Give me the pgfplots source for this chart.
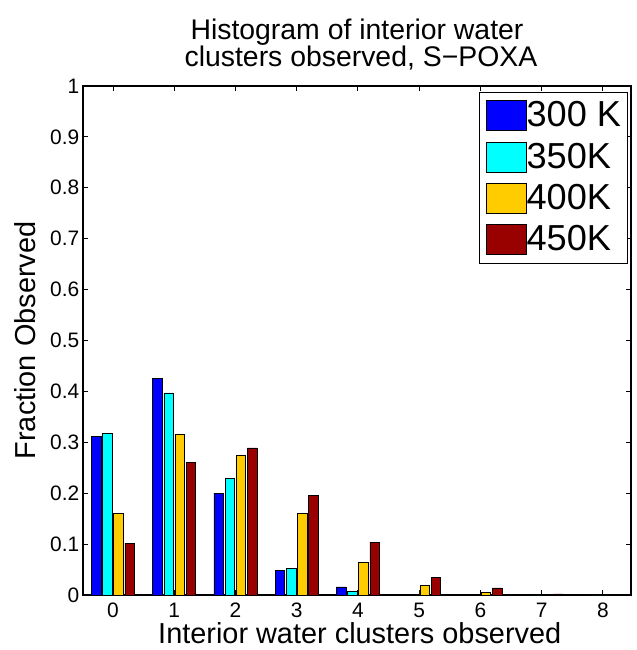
\documentclass[border=0pt]{standalone}
\usepackage{fontspec}
\setmainfont{Liberation Sans}
\usepackage{pgfplots}
\pgfplotsset{compat=1.18}

\definecolor{c300}{RGB}{0,0,255}
\definecolor{c350}{RGB}{0,255,255}
\definecolor{c400}{RGB}{255,204,0}
\definecolor{c450}{RGB}{153,0,0}

\begin{document}
\begin{tikzpicture}
\begin{axis}[
  at={(0,0)}, anchor=south west,
  scale only axis,
  width=548bp, height=509bp,
  xmin=-0.49, xmax=8.46,
  ymin=0, ymax=1,
  xtick={0,1,2,3,4,5,6,7,8},
  ytick={0,0.1,0.2,0.3,0.4,0.5,0.6,0.7,0.8,0.9,1},
  yticklabels={0,0.1,0.2,0.3,0.4,0.5,0.6,0.7,0.8,0.9,1},
  tick align=inside,
  major tick length=5bp,
  axis line style={line width=1.1bp},
  every tick/.style={black, line width=0.9bp},
  /pgf/number format/assume math mode=true,
  tick label style={font=\fontsize{21}{21}\selectfont},
  yticklabel style={inner sep=0bp, xshift=-3.5bp},
  xticklabel style={inner sep=0bp, yshift=-8bp},
  xlabel={Interior water clusters observed},
  ylabel={Fraction Observed},
  label style={font=\fontsize{29}{29}\selectfont, inner sep=0bp},
  xlabel style={at={(axis description cs:0.505,-0.0955)}, anchor=base},
  ylabel style={at={(axis description cs:-0.0858,0.5)}, anchor=base},
  title={Histogram of interior water\\ \ clusters observed, S−POXA},
  title style={font=\fontsize{28.5}{27}\selectfont, align=center, inner sep=0bp,
               at={(axis description cs:0.5,1.0187)}, anchor=south},
  legend image code/.code={
    \draw[#1,/tikz/.cd,draw=black,line width=0.8bp] (0bp,-4bp) rectangle (40bp,26bp);
  },
  legend style={
    at={(axis description cs:1,1)}, anchor=north east,
    xshift=-3bp, yshift=-6bp,
    font=\fontsize{36.3}{36.3}\selectfont,
    draw=black, line width=0.9bp,
    inner xsep=6.5bp, inner ysep=8bp,
    row sep=10.5bp,
    nodes={inner sep=0bp, anchor=base west},
    /tikz/every even column/.append style={column sep=1bp},
  },
  legend cell align=left,
]
\addplot[ybar, bar width=0.156, bar shift=-0.273, fill=c300, draw=black, line width=0.7bp]
  coordinates {(0,0.311) (1,0.426) (2,0.200) (3,0.048) (4,0.016) (5,0.001) (6,0.0005) (7,0) (8,0)};
\addlegendentry{300 K}
\addplot[ybar, bar width=0.156, bar shift=-0.091, fill=c350, draw=black, line width=0.7bp]
  coordinates {(0,0.318) (1,0.397) (2,0.229) (3,0.053) (4,0.007) (5,0.001) (6,0.0005) (7,0) (8,0)};
\addlegendentry{350K}
\addplot[ybar, bar width=0.156, bar shift=0.091, fill=c400, draw=black, line width=0.7bp]
  coordinates {(0,0.160) (1,0.316) (2,0.275) (3,0.161) (4,0.064) (5,0.018) (6,0.005) (7,0.001) (8,0.0005)};
\addlegendentry{400K}
\addplot[ybar, bar width=0.156, bar shift=0.273, fill=c450, draw=black, line width=0.7bp]
  coordinates {(0,0.102) (1,0.261) (2,0.289) (3,0.196) (4,0.104) (5,0.034) (6,0.014) (7,0.002) (8,0.001)};
\addlegendentry{450K}
\end{axis}
\pgfresetboundingbox
\path[use as bounding box] (-83bp,-55bp) rectangle (554bp,595bp);
\end{tikzpicture}
\end{document}
